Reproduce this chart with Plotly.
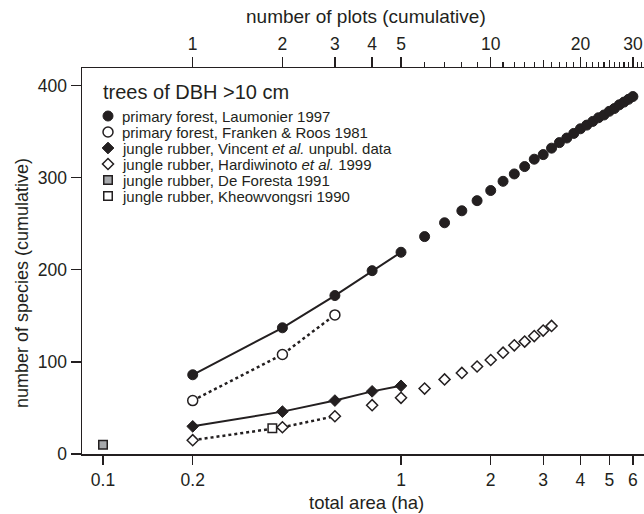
import plotly.graph_objects as go
import math

# ---------------- data ----------------
laum_area = [0.2, 0.4, 0.6, 0.8, 1.0, 1.2, 1.4, 1.6, 1.8, 2.0, 2.2, 2.4, 2.6, 2.8, 3.0,
             3.2, 3.4, 3.6, 3.8, 4.0, 4.2, 4.4, 4.6, 4.8, 5.0, 5.2, 5.4, 5.6, 5.8, 6.0]
laum_species = [86, 137, 172, 199, 219, 236, 251, 264, 275, 286, 296, 304, 312, 320, 325,
                332, 338, 343, 348, 353, 357, 361, 365, 368, 372, 375, 379, 382, 385, 388]

franken_area = [0.2, 0.4, 0.6]
franken_species = [58, 108, 151]

vincent_area = [0.2, 0.4, 0.6, 0.8, 1.0]
vincent_species = [30, 46, 58, 68, 74]

hardi_area = [0.2, 0.4, 0.6, 0.8, 1.0, 1.2, 1.4, 1.6, 1.8, 2.0, 2.2, 2.4, 2.6, 2.8, 3.0, 3.2]
hardi_species = [15, 29, 41, 53, 61, 71, 81, 88, 95, 102, 110, 118, 122, 128, 134, 139]

deforesta_area = [0.1]
deforesta_species = [10]

kheow_area = [0.37]
kheow_species = [28]

x_tickvals = [0.1, 0.2, 1, 2, 3, 4, 5, 6]
x_ticktext = ["0.1", "0.2", "1", "2", "3", "4", "5", "6"]
y_tickvals = [0, 100, 200, 300, 400]
plots_tickvals = [1, 2, 3, 4, 5, 10, 20, 30]
plots_minor = [6, 7, 8, 9, 11, 12, 13, 14, 16, 17, 18, 19, 21, 22, 23, 24, 26, 27, 28, 29, 31, 32]
plots_mid = [15, 25]
ha_per_plot = 0.2

legend_title = "trees of DBH >10 cm"
legend_labels = [
    "primary forest, Laumonier 1997",
    "primary forest, Franken &amp; Roos 1981",
    "jungle rubber, Vincent <i>et al.</i> unpubl. data",
    "jungle rubber, Hardiwinoto <i>et al.</i> 1999",
    "jungle rubber, De Foresta 1991",
    "jungle rubber, Kheowvongsri 1990",
]

# ---------------- layout constants ----------------
W, H = 644, 514
ML, MR, MT, MB = 82, 0, 68, 60
PW = W - ML - MR
PH = H - MT - MB
INK = "#231f20"
FONT = "Liberation Sans, Arial, sans-serif"

def px(x):
    return (x - ML) / PW

def py(y):
    return (H - MB - y) / PH

XR = [-1.0705, 0.8154]
YR = [0, 419]
shift = -math.log10(ha_per_plot)

styles = [
    dict(symbol="circle", size=10, color=INK, line=dict(color=INK, width=1)),
    dict(symbol="circle", size=10, color="white", line=dict(color=INK, width=1.5)),
    dict(symbol="diamond", size=9, color=INK, line=dict(color=INK, width=1)),
    dict(symbol="diamond", size=8.5, color="white", line=dict(color=INK, width=1.5)),
    dict(symbol="square", size=8.5, color="#a7a9ac", line=dict(color=INK, width=1.5)),
    dict(symbol="square", size=8.5, color="white", line=dict(color=INK, width=1.5)),
]

fig = go.Figure()

# connecting lines
fig.add_trace(go.Scatter(x=laum_area[:5], y=laum_species[:5], mode="lines",
                         line=dict(color=INK, width=2), hoverinfo="skip"))
fig.add_trace(go.Scatter(x=franken_area, y=franken_species, mode="lines",
                         line=dict(color=INK, width=2.5, dash="dot"), hoverinfo="skip"))
fig.add_trace(go.Scatter(x=vincent_area, y=vincent_species, mode="lines",
                         line=dict(color=INK, width=2), hoverinfo="skip"))
fig.add_trace(go.Scatter(x=hardi_area[:3], y=hardi_species[:3], mode="lines",
                         line=dict(color=INK, width=2.5, dash="dot"), hoverinfo="skip"))

# markers
fig.add_trace(go.Scatter(x=laum_area, y=laum_species, mode="markers", marker=styles[0]))
fig.add_trace(go.Scatter(x=franken_area, y=franken_species, mode="markers", marker=styles[1]))
fig.add_trace(go.Scatter(x=vincent_area, y=vincent_species, mode="markers", marker=styles[2]))
fig.add_trace(go.Scatter(x=deforesta_area, y=deforesta_species, mode="markers", marker=styles[4]))
fig.add_trace(go.Scatter(x=kheow_area, y=kheow_species, mode="markers", marker=styles[5]))
fig.add_trace(go.Scatter(x=hardi_area, y=hardi_species, mode="markers", marker=styles[3]))

# top axis carrier traces
fig.add_trace(go.Scatter(x=[a / ha_per_plot for a in laum_area], y=laum_species, mode="none",
                         xaxis="x2", hoverinfo="skip"))
fig.add_trace(go.Scatter(x=[a / ha_per_plot for a in laum_area], y=laum_species, mode="none",
                         xaxis="x4", hoverinfo="skip"))

# manual legend
leg_rows = [116, 132, 148, 164, 180, 196]
leg_marker_x = 108
for st, ry in zip(styles, leg_rows):
    fig.add_trace(go.Scatter(x=[leg_marker_x], y=[ry], mode="markers", marker=st,
                             xaxis="x3", yaxis="y3", hoverinfo="skip"))

annotations = [
    dict(text=legend_title, x=px(101), y=py(92), xref="paper", yref="paper",
         xanchor="left", yanchor="middle", showarrow=False,
         font=dict(size=20, color=INK, family=FONT)),
    dict(text="number of plots (cumulative)", x=px(366), y=py(17), xref="paper", yref="paper",
         xanchor="center", yanchor="middle", showarrow=False,
         font=dict(size=19, color=INK, family=FONT)),
    dict(text="total area (ha)", x=px(366), y=py(502), xref="paper", yref="paper",
         xanchor="center", yanchor="middle", showarrow=False,
         font=dict(size=18.5, color=INK, family=FONT)),
    dict(text="number of species (cumulative)", x=px(22), y=py(283), xref="paper", yref="paper",
         xanchor="center", yanchor="middle", showarrow=False, textangle=-90,
         font=dict(size=18, color=INK, family=FONT)),
]
for lab, ry in zip(legend_labels, leg_rows):
    annotations.append(dict(text=lab, x=px(120), y=py(ry), xref="paper", yref="paper",
                            xanchor="left", yanchor="middle", showarrow=False,
                            font=dict(size=15, color=INK, family=FONT)))

axis_common = dict(showgrid=False, zeroline=False, ticks="outside", tickcolor=INK,
                   tickwidth=1.3, linecolor=INK, linewidth=1.5,
                   tickfont=dict(size=17.5, color=INK, family=FONT))

fig.update_layout(
    width=W, height=H,
    margin=dict(l=ML, r=MR, t=MT, b=MB, pad=0),
    paper_bgcolor="white", plot_bgcolor="white",
    showlegend=False,
    font=dict(family=FONT, color=INK),
    annotations=annotations,
    xaxis=dict(type="log", range=XR, tickmode="array", tickvals=x_tickvals,
               ticktext=x_ticktext, ticklen=9, showline=True, **axis_common),
    yaxis=dict(range=YR, tickmode="array", tickvals=y_tickvals, ticklen=10,
               showline=True, **axis_common),
    xaxis2=dict(type="log", overlaying="x", side="top", anchor="y",
                range=[XR[0] + shift, XR[1] + shift], tickmode="array",
                tickvals=plots_tickvals, ticktext=[str(v) for v in plots_tickvals],
                ticklen=10, showline=True,
                minor=dict(tickmode="array", tickvals=plots_minor, ticklen=5,
                           ticks="outside", tickcolor=INK, tickwidth=1.1, showgrid=False),
                **axis_common),
    xaxis4=dict(type="log", overlaying="x", side="top", anchor="y",
                range=[XR[0] + shift, XR[1] + shift], tickmode="array",
                tickvals=plots_mid, ticklen=7, showticklabels=False, showline=False,
                showgrid=False, zeroline=False, ticks="outside", tickcolor=INK, tickwidth=1.2),
    xaxis3=dict(overlaying="x", range=[ML, W - MR], visible=False),
    yaxis3=dict(overlaying="y", range=[H - MB, MT], visible=False),
)

fig.write_html("out.html", config={"displayModeBar": False, "staticPlot": True},
               post_script="document.body.style.margin='0';document.body.style.overflow='hidden';")
